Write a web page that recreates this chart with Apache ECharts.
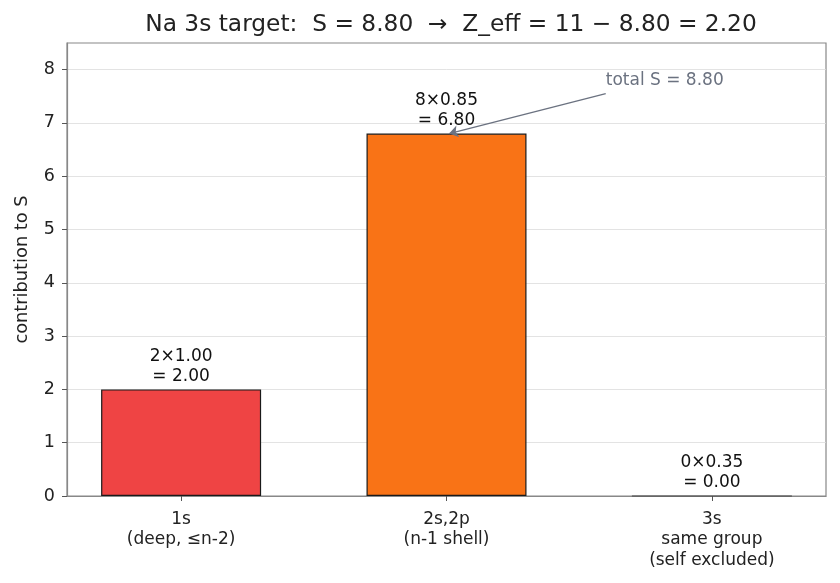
<!DOCTYPE html>
<html>
<head>
<meta charset="utf-8">
<script src="https://cdn.jsdelivr.net/npm/echarts@6/dist/echarts.min.js"></script>
<style>html,body{margin:0;padding:0;background:#fff}#c{width:840px;height:583px}</style>
</head>
<body>
<div id="c"></div>
<script>
// ---- data ----
const categories = ['1s\n(deep, ≤n-2)', '2s,2p\n(n-1 shell)', '3s\nsame group\n(self excluded)'];
const electronCounts = [2, 8, 0];
const factors = ['1.00', '0.85', '0.35'];
const contributions = [2.00, 6.80, 0.00];
const barColors = ['#ef4444', '#f97316', '#9ca3af'];
const yTicks = [0, 1, 2, 3, 4, 5, 6, 7, 8];
const totalS = 8.80;
const annotationText = 'total S = ' + totalS.toFixed(2);
const annotationTextPos = [1.6, 7.8];
const annotationArrowStart = [1.6, 7.55];
const annotationArrowEnd = [1.01, 6.8];

const font = 'DejaVu Sans';
const chart = echarts.init(document.getElementById('c'));
const catIdx = categories.map((_, i) => i);

chart.setOption({
  animation: false,
  textStyle: { fontFamily: font },
  title: {
    text: 'Na 3s target:  S = 8.80  →  Z_eff = 11 − 8.80 = 2.20',
    left: 446, top: 8, textAlign: 'center',
    textStyle: { fontFamily: font, fontSize: 23.3, fontWeight: 'normal', color: '#222' }
  },
  grid: {
    left: 67, right: 14, top: 43, bottom: 87,
    show: true, borderColor: '#888', borderWidth: 1.2, backgroundColor: 'transparent'
  },
  xAxis: {
    type: 'value', min: -0.43, max: 2.43,
    axisLine: { show: true, onZero: false, lineStyle: { color: '#888', width: 1.2 } },
    axisTick: { show: true, length: 5, customValues: catIdx, lineStyle: { color: '#555' } },
    axisLabel: {
      customValues: catIdx, margin: 13,
      formatter: v => categories[Math.round(v)] || '',
      fontFamily: font, fontSize: 17, lineHeight: 20.7, color: '#222'
    },
    splitLine: { show: false }
  },
  yAxis: {
    type: 'value', min: 0, max: 8.5,
    name: 'contribution to S', nameLocation: 'middle', nameGap: 36,
    nameTextStyle: { fontFamily: font, fontSize: 17.8, color: '#222' },
    axisLine: { show: true, onZero: false, lineStyle: { color: '#888', width: 1.2 } },
    axisTick: { show: true, length: 5, customValues: yTicks, lineStyle: { color: '#555' } },
    axisLabel: { customValues: yTicks, margin: 12, fontFamily: font, fontSize: 17.5, color: '#222' },
    splitLine: { show: true, lineStyle: { color: '#dcdcdc', width: 0.8 } }
  },
  series: [{
    type: 'bar',
    barWidth: 160,
    data: contributions.map((v, i) => ({
      value: [i, v],
      itemStyle: { color: barColors[i], borderColor: i === 2 ? '#444' : '#1a1a1a', borderWidth: 1.2 }
    })),
    label: {
      show: true, position: 'top', distance: 3,
      fontFamily: font, fontSize: 17, lineHeight: 20, color: '#111',
      formatter: p => electronCounts[p.dataIndex] + '×' + factors[p.dataIndex] + '\n= ' + contributions[p.dataIndex].toFixed(2)
    },
    markLine: {
      silent: true, symbol: ['none', 'arrow'], symbolSize: 9,
      label: { show: false },
      lineStyle: { color: '#6b7280', width: 1.4, type: 'solid' },
      data: [[{ coord: annotationArrowStart }, { coord: annotationArrowEnd }]]
    },
    markPoint: {
      silent: true, symbol: 'circle', symbolSize: 0,
      label: {
        show: true, position: 'right', distance: 0,
        formatter: annotationText, color: '#6b7280', fontFamily: font, fontSize: 17
      },
      data: [{ coord: annotationTextPos }]
    }
  }]
});
</script>
</body>
</html>
